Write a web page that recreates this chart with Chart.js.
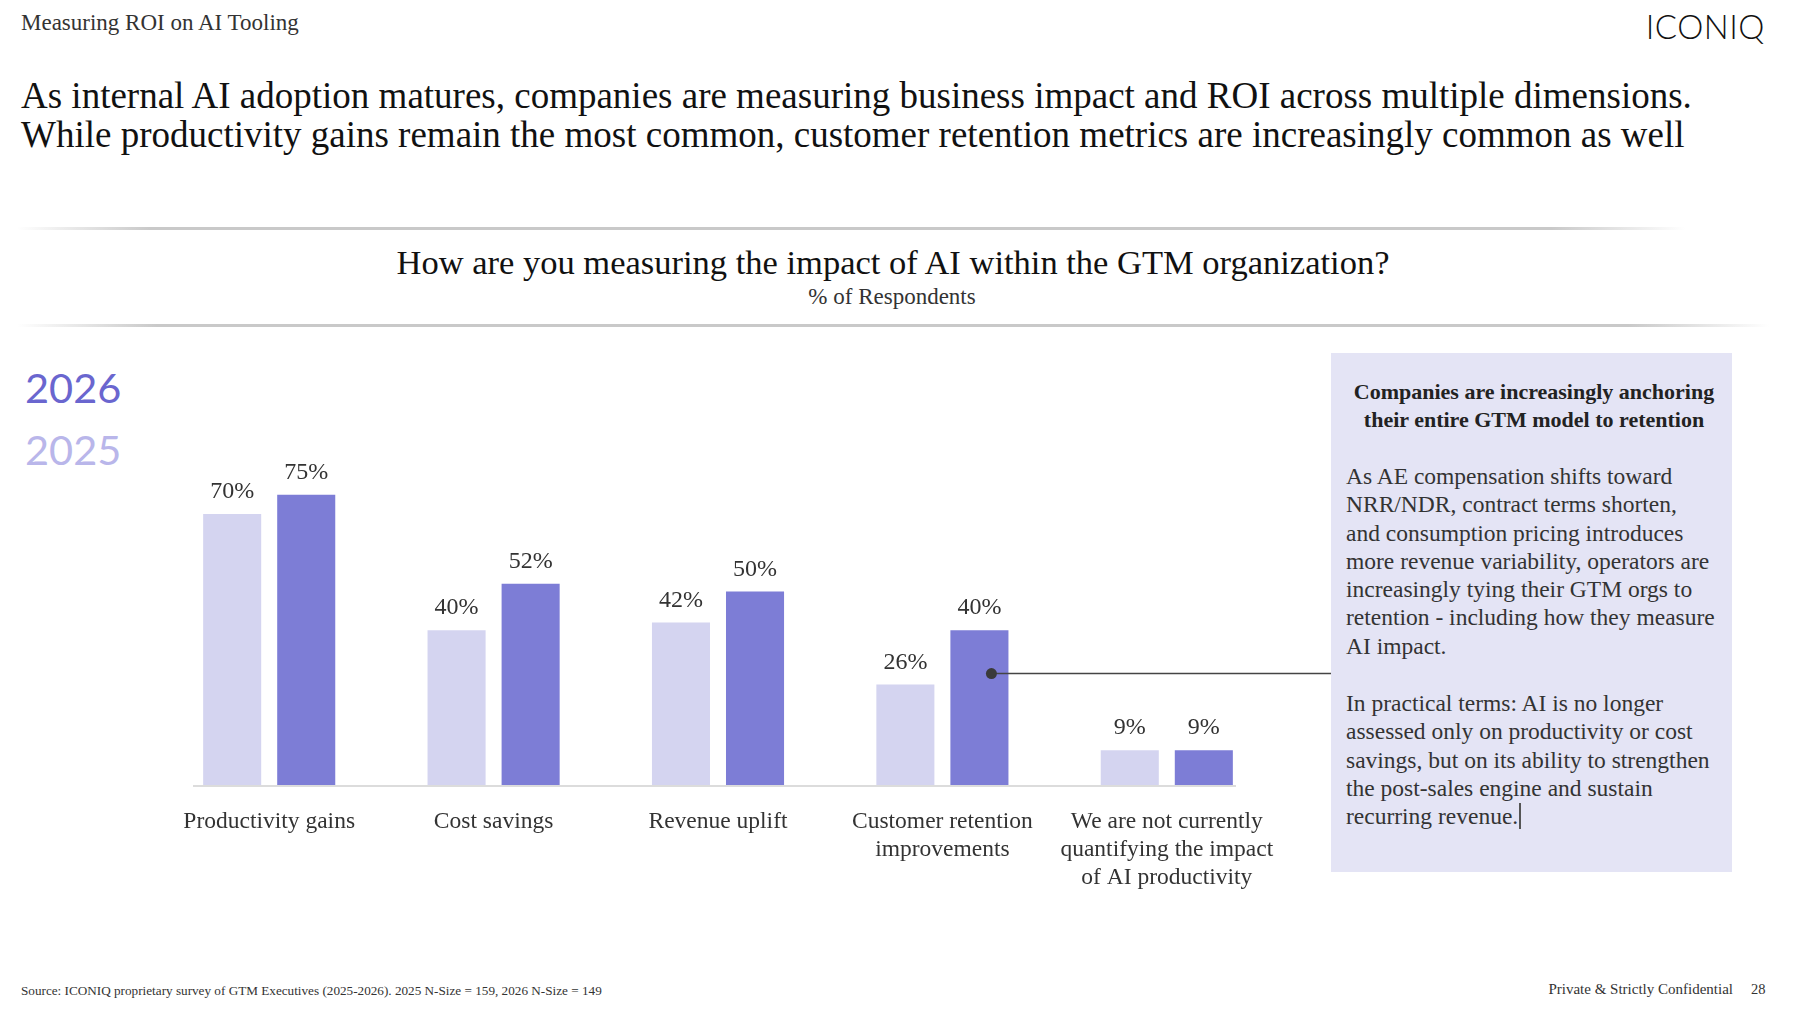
<!DOCTYPE html>
<html>
<head>
<meta charset="utf-8">
<title>Measuring ROI on AI Tooling</title>
<script src="https://cdn.jsdelivr.net/npm/chart.js@4.4.1/dist/chart.umd.min.js"></script>
<style>
  body {
    margin: 0;
    width: 1803px;
    height: 1014px;
    background: #fff;
    position: relative;
    overflow: hidden;
    font-family: "Liberation Serif", "Times New Roman", serif;
    color: #1a1a1a;
  }
  .abs { position: absolute; white-space: nowrap; }
  .kicker { left: 21px; top: 9px; font-size: 23px; line-height: 28px; color: #333; }
  .logo { right: 38px; top: 8px; font-family: Lato, "Open Sans", sans-serif; font-weight: 300; font-size: 33px; line-height: 36px; color: #111; letter-spacing: 0.5px; }
  .headline { left: 21px; top: 76px; font-size: 37px; line-height: 39px; color: #111; }
  .rule { height: 3px; background: linear-gradient(to right, rgba(190,190,190,0), #c9c9c9 8%, #c9c9c9 92%, rgba(190,190,190,0)); }
  .title { left: 0; width: 1786px; text-align: center; top: 243px; font-size: 34.5px; line-height: 38px; color: #111; }
  .subtitle { left: 0; width: 1784px; text-align: center; top: 284px; font-size: 23px; line-height: 26px; color: #333; }
  #legend { left: 25px; top: 356px; font-family: Lato, "Open Sans", sans-serif; font-size: 41.5px; line-height: 62px; }
  #chart { position: absolute; left: 157px; top: 398px; }
  .box {
    position: absolute; left: 1331px; top: 353px; width: 401px; height: 519px;
    background: #e4e4f5; box-sizing: border-box; padding: 25px 10px 0 15px;
  }
  .box h3 { margin: 0; font-size: 22px; line-height: 28px; text-align: center; font-weight: bold; color: #222; }
  .box p { margin: 28px 0 0 0; font-size: 23.5px; line-height: 28.3px; color: #333; }
  .box p + p { margin-top: 29px; }
  .cursor { display: inline-block; width: 2px; height: 26px; background: #555; vertical-align: -5px; margin-left: 1px; }
  .foot { top: 983px; font-size: 13.2px; line-height: 16px; color: #333; }
</style>
</head>
<body>

<div class="abs kicker">Measuring ROI on AI Tooling</div>
<div class="abs logo">ICONIQ</div>
<div class="abs headline">As internal AI adoption matures, companies are measuring business impact and ROI across multiple dimensions.<br>While productivity gains remain the most common, customer retention metrics are increasingly common as well</div>

<div class="abs rule" style="left:17px; top:227px; width:1668px;"></div>
<div class="abs title">How are you measuring the impact of AI within the GTM organization?</div>
<div class="abs subtitle">% of Respondents</div>
<div class="abs rule" style="left:17px; top:324px; width:1752px;"></div>

<div class="abs" id="legend"></div>
<canvas id="chart" width="1174" height="499"></canvas>

<div class="box">
  <h3>Companies are increasingly anchoring<br>their entire GTM model to retention</h3>
  <p>As AE compensation shifts toward<br>NRR/NDR, contract terms shorten,<br>and consumption pricing introduces<br>more revenue variability, operators are<br>increasingly tying their GTM orgs to<br>retention - including how they measure<br>AI impact.</p>
  <p>In practical terms: AI is no longer<br>assessed only on productivity or cost<br>savings, but on its ability to strengthen<br>the post-sales engine and sustain<br>recurring revenue.<span class="cursor"></span></p>
</div>

<div class="abs foot" style="left:21px;">Source: ICONIQ proprietary survey of GTM Executives (2025-2026). 2025 N-Size = 159, 2026 N-Size = 149</div>
<div class="abs foot" style="right:70px; font-size:15px; top:981px;">Private &amp; Strictly Confidential</div>
<div class="abs foot" style="left:1751px; font-size:14.5px; top:981px;">28</div>

<script>
// ---- data ----
const categories = [
  ["Productivity gains"],
  ["Cost savings"],
  ["Revenue uplift"],
  ["Customer retention", "improvements"],
  ["We are not currently", "quantifying the impact", "of AI productivity"]
];
const years = ["2025", "2026"];
const values2025 = [70, 40, 42, 26, 9];
const values2026 = [75, 52, 50, 40, 9];

const barColors = ["#d4d4f0", "#7d7dd6"];
const legendColors = ["#b9b6ea", "#6a66cf"];
const serif = '"Liberation Serif", "Times New Roman", serif';

// legend (2026 on top)
const legend = document.getElementById("legend");
[1, 0].forEach((i) => {
  const div = document.createElement("div");
  div.textContent = years[i];
  div.style.color = legendColors[i];
  legend.appendChild(div);
});

// value labels above bars
const valueLabels = {
  id: "valueLabels",
  afterDatasetsDraw(chart) {
    const ctx = chart.ctx;
    ctx.save();
    ctx.font = "24px " + serif;
    ctx.fillStyle = "#333";
    ctx.textAlign = "center";
    ctx.textBaseline = "middle";
    chart.data.datasets.forEach((ds, di) => {
      chart.getDatasetMeta(di).data.forEach((bar, i) => {
        ctx.fillText(ds.data[i] + "%", bar.x, bar.y - 22);
      });
    });
    ctx.restore();
  }
};

// thin baseline under the bars
const baseline = {
  id: "baseline",
  beforeDatasetsDraw(chart) {
    const { ctx, chartArea } = chart;
    ctx.save();
    ctx.strokeStyle = "#dcdcdc";
    ctx.lineWidth = 2;
    ctx.beginPath();
    ctx.moveTo(chartArea.left + 36, chartArea.bottom + 1);
    ctx.lineTo(chartArea.right - 43, chartArea.bottom + 1);
    ctx.stroke();
    ctx.restore();
  }
};

// callout from the customer retention 2026 bar to the side box
const callout = {
  id: "callout",
  afterDatasetsDraw(chart) {
    const bar = chart.getDatasetMeta(1).data[3];
    const ctx = chart.ctx;
    const x = bar.x + 12;
    const y = bar.y + (bar.base - bar.y) * 0.28;
    ctx.save();
    ctx.strokeStyle = "#444";
    ctx.lineWidth = 1.5;
    ctx.beginPath();
    ctx.moveTo(x, y);
    ctx.lineTo(chart.width, y);
    ctx.stroke();
    ctx.fillStyle = "#3a3a3a";
    ctx.beginPath();
    ctx.arc(x, y, 5.5, 0, Math.PI * 2);
    ctx.fill();
    ctx.restore();
  }
};

new Chart(document.getElementById("chart"), {
  type: "bar",
  data: {
    labels: categories,
    datasets: [
      { label: years[0], data: values2025, backgroundColor: barColors[0], categoryPercentage: 0.66, barPercentage: 0.784 },
      { label: years[1], data: values2026, backgroundColor: barColors[1], categoryPercentage: 0.66, barPercentage: 0.784 }
    ]
  },
  options: {
    responsive: false,
    animation: false,
    devicePixelRatio: 1,
    layout: { padding: { left: 0, right: 52, top: 0, bottom: 0 } },
    plugins: { legend: { display: false }, tooltip: { enabled: false } },
    scales: {
      x: {
        grid: { display: false },
        border: { display: false },
        ticks: {
          color: "#333",
          font: { family: serif, size: 23.5, lineHeight: 1.19 },
          padding: 15,
          maxRotation: 0,
          autoSkip: false
        },
        afterFit: (scale) => { scale.height = 112; }
      },
      y: { display: false, min: 0, max: 100 }
    }
  },
  plugins: [baseline, valueLabels, callout]
});
</script>
</body>
</html>
